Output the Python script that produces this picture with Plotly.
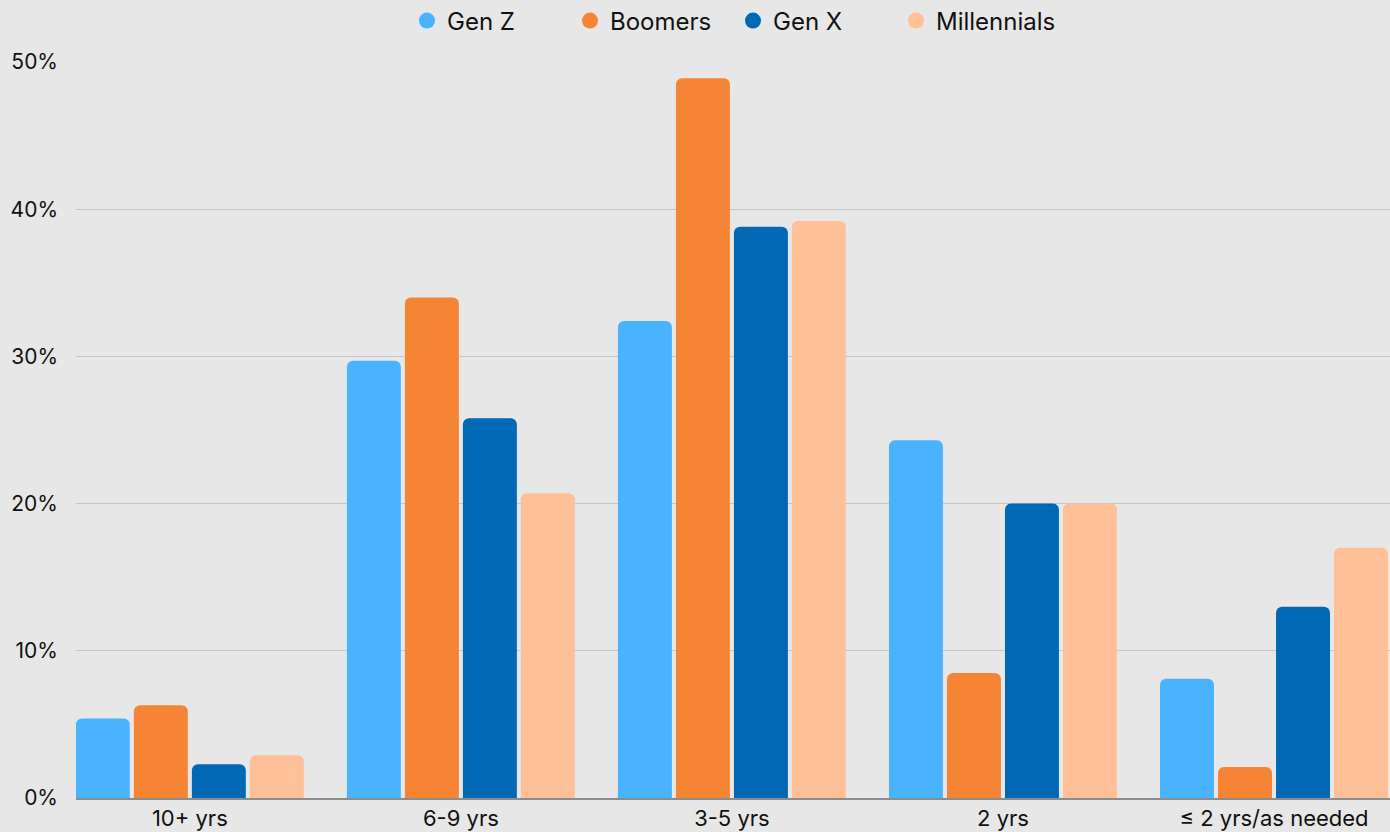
import plotly.graph_objects as go

categories = ["10+ yrs", "6-9 yrs", "3-5 yrs", "2 yrs", "≤ 2 yrs/as needed"]
series_names = ["Gen Z", "Boomers", "Gen X", "Millennials"]
gen_z = [5.4, 29.7, 32.4, 24.3, 8.1]
boomers = [6.3, 34.0, 48.9, 8.5, 2.1]
gen_x = [2.3, 25.8, 38.8, 20.0, 13.0]
millennials = [2.9, 20.7, 39.2, 20.0, 17.0]
colors = ["#4AB3FF", "#F68435", "#0068B4", "#FFC098"]

values = [gen_z, boomers, gen_x, millennials]

fig = go.Figure()
for name, vals, col in zip(series_names, values, colors):
    fig.add_trace(go.Bar(
        x=categories, y=vals, name=name, marker_color=col,
        marker_line_width=0, showlegend=False,
    ))
# circular legend swatches
for name, col in zip(series_names, colors):
    fig.add_trace(go.Scatter(
        x=[None], y=[None], mode="markers", name=name,
        marker=dict(symbol="circle", size=22, color=col),
    ))

fig.update_layout(
    width=1390, height=832,
    paper_bgcolor="#E7E7E7", plot_bgcolor="#E7E7E7",
    margin=dict(l=76, r=0, t=62, b=34, autoexpand=False),
    barmode="group", bargap=0.144, bargroupgap=0.07, barcornerradius=6,
    font=dict(family="Inter, Roboto, sans-serif", size=20, color="#111111"),
    legend=dict(orientation="h", x=0.5, xanchor="center", y=1 - 21 / 832,
                yanchor="middle", yref="container", font=dict(size=24),
                itemsizing="trace", entrywidth=118, entrywidthmode="pixels",
                traceorder="normal", bgcolor="rgba(0,0,0,0)"),
    xaxis=dict(range=[-0.42, 4.428], showgrid=False, showline=True,
               linecolor="#8C8C8C", linewidth=2, ticks="", tickfont=dict(size=22),
               ticklabelstandoff=0),
    yaxis=dict(range=[0, 50], dtick=10, ticksuffix="%", showgrid=True,
               gridcolor="#C6C6C6", gridwidth=1, zeroline=False, showline=False,
               tickfont=dict(size=21), ticklabelstandoff=17),
)

fig.write_html("out.html")
